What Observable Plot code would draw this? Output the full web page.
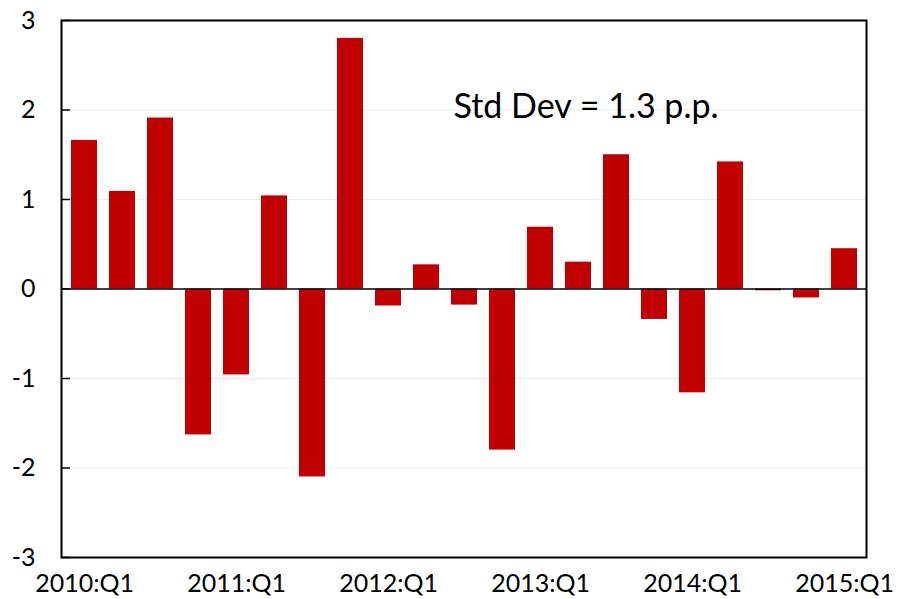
<!DOCTYPE html>
<html>
<head>
<meta charset="utf-8">
<script src="https://cdn.jsdelivr.net/npm/d3@7"></script>
<script src="https://cdn.jsdelivr.net/npm/@observablehq/plot@0.6"></script>
<style>
  html, body { margin: 0; padding: 0; background: #fff; }
  #chart svg { display: block; font-family: Lato, "Open Sans", sans-serif; }
</style>
</head>
<body>
<div id="chart"></div>
<script>
const quarters = [
  "2010:Q1","2010:Q2","2010:Q3","2010:Q4",
  "2011:Q1","2011:Q2","2011:Q3","2011:Q4",
  "2012:Q1","2012:Q2","2012:Q3","2012:Q4",
  "2013:Q1","2013:Q2","2013:Q3","2013:Q4",
  "2014:Q1","2014:Q2","2014:Q3","2014:Q4",
  "2015:Q1"
];
const values = [
  1.66, 1.09, 1.91, -1.63,
  -0.96, 1.04, -2.10, 2.80,
  -0.19, 0.27, -0.18, -1.80,
  0.69, 0.30, 1.50, -0.34,
  -1.16, 1.42, -0.02, -0.10,
  0.45
];
const yTicks = [-3, -2, -1, 0, 1, 2, 3];
const gridTicks = [-2, -1, 1, 2];
const xTickLabels = quarters.filter(q => q.endsWith("Q1"));
const annotation = [{q: "2012:Q3", v: 2.05, label: "Std Dev = 1.3 p.p."}];

const data = quarters.map((q, i) => ({q, v: values[i]}));

const chart = Plot.plot({
  width: 900,
  height: 599,
  marginLeft: 61,
  marginRight: 34,
  marginTop: 20,
  marginBottom: 42,
  style: {fontSize: "25px", fontFamily: "Lato, 'Open Sans', sans-serif", color: "#000", background: "#fff"},
  x: {domain: quarters, paddingInner: 0.32, paddingOuter: 0.16, align: 0.5},
  y: {domain: [-3, 3]},
  marks: [
    Plot.ruleY(gridTicks, {stroke: "#ebebeb", strokeWidth: 1}),
    Plot.barY(data, {x: "q", y: "v", fill: "#C00000"}),
    Plot.ruleY([0], {stroke: "#000", strokeWidth: 1.5}),
    Plot.axisY({ticks: yTicks, tickSize: -9, tickPadding: 35, stroke: "#000", strokeWidth: 1.5, fontSize: 25, label: null, tickFormat: d => String(d).replace("−", "-")}),
    Plot.axisX({ticks: xTickLabels, tickSize: 0, tickPadding: 17, fontSize: 25, label: null}),
    Plot.frame({stroke: "#000", strokeWidth: 2}),
    Plot.text(annotation, {x: "q", y: "v", text: "label", textAnchor: "start", dx: -11, dy: 2, fontSize: 34, fill: "#000"})
  ]
});
document.getElementById("chart").appendChild(chart);
</script>
</body>
</html>
